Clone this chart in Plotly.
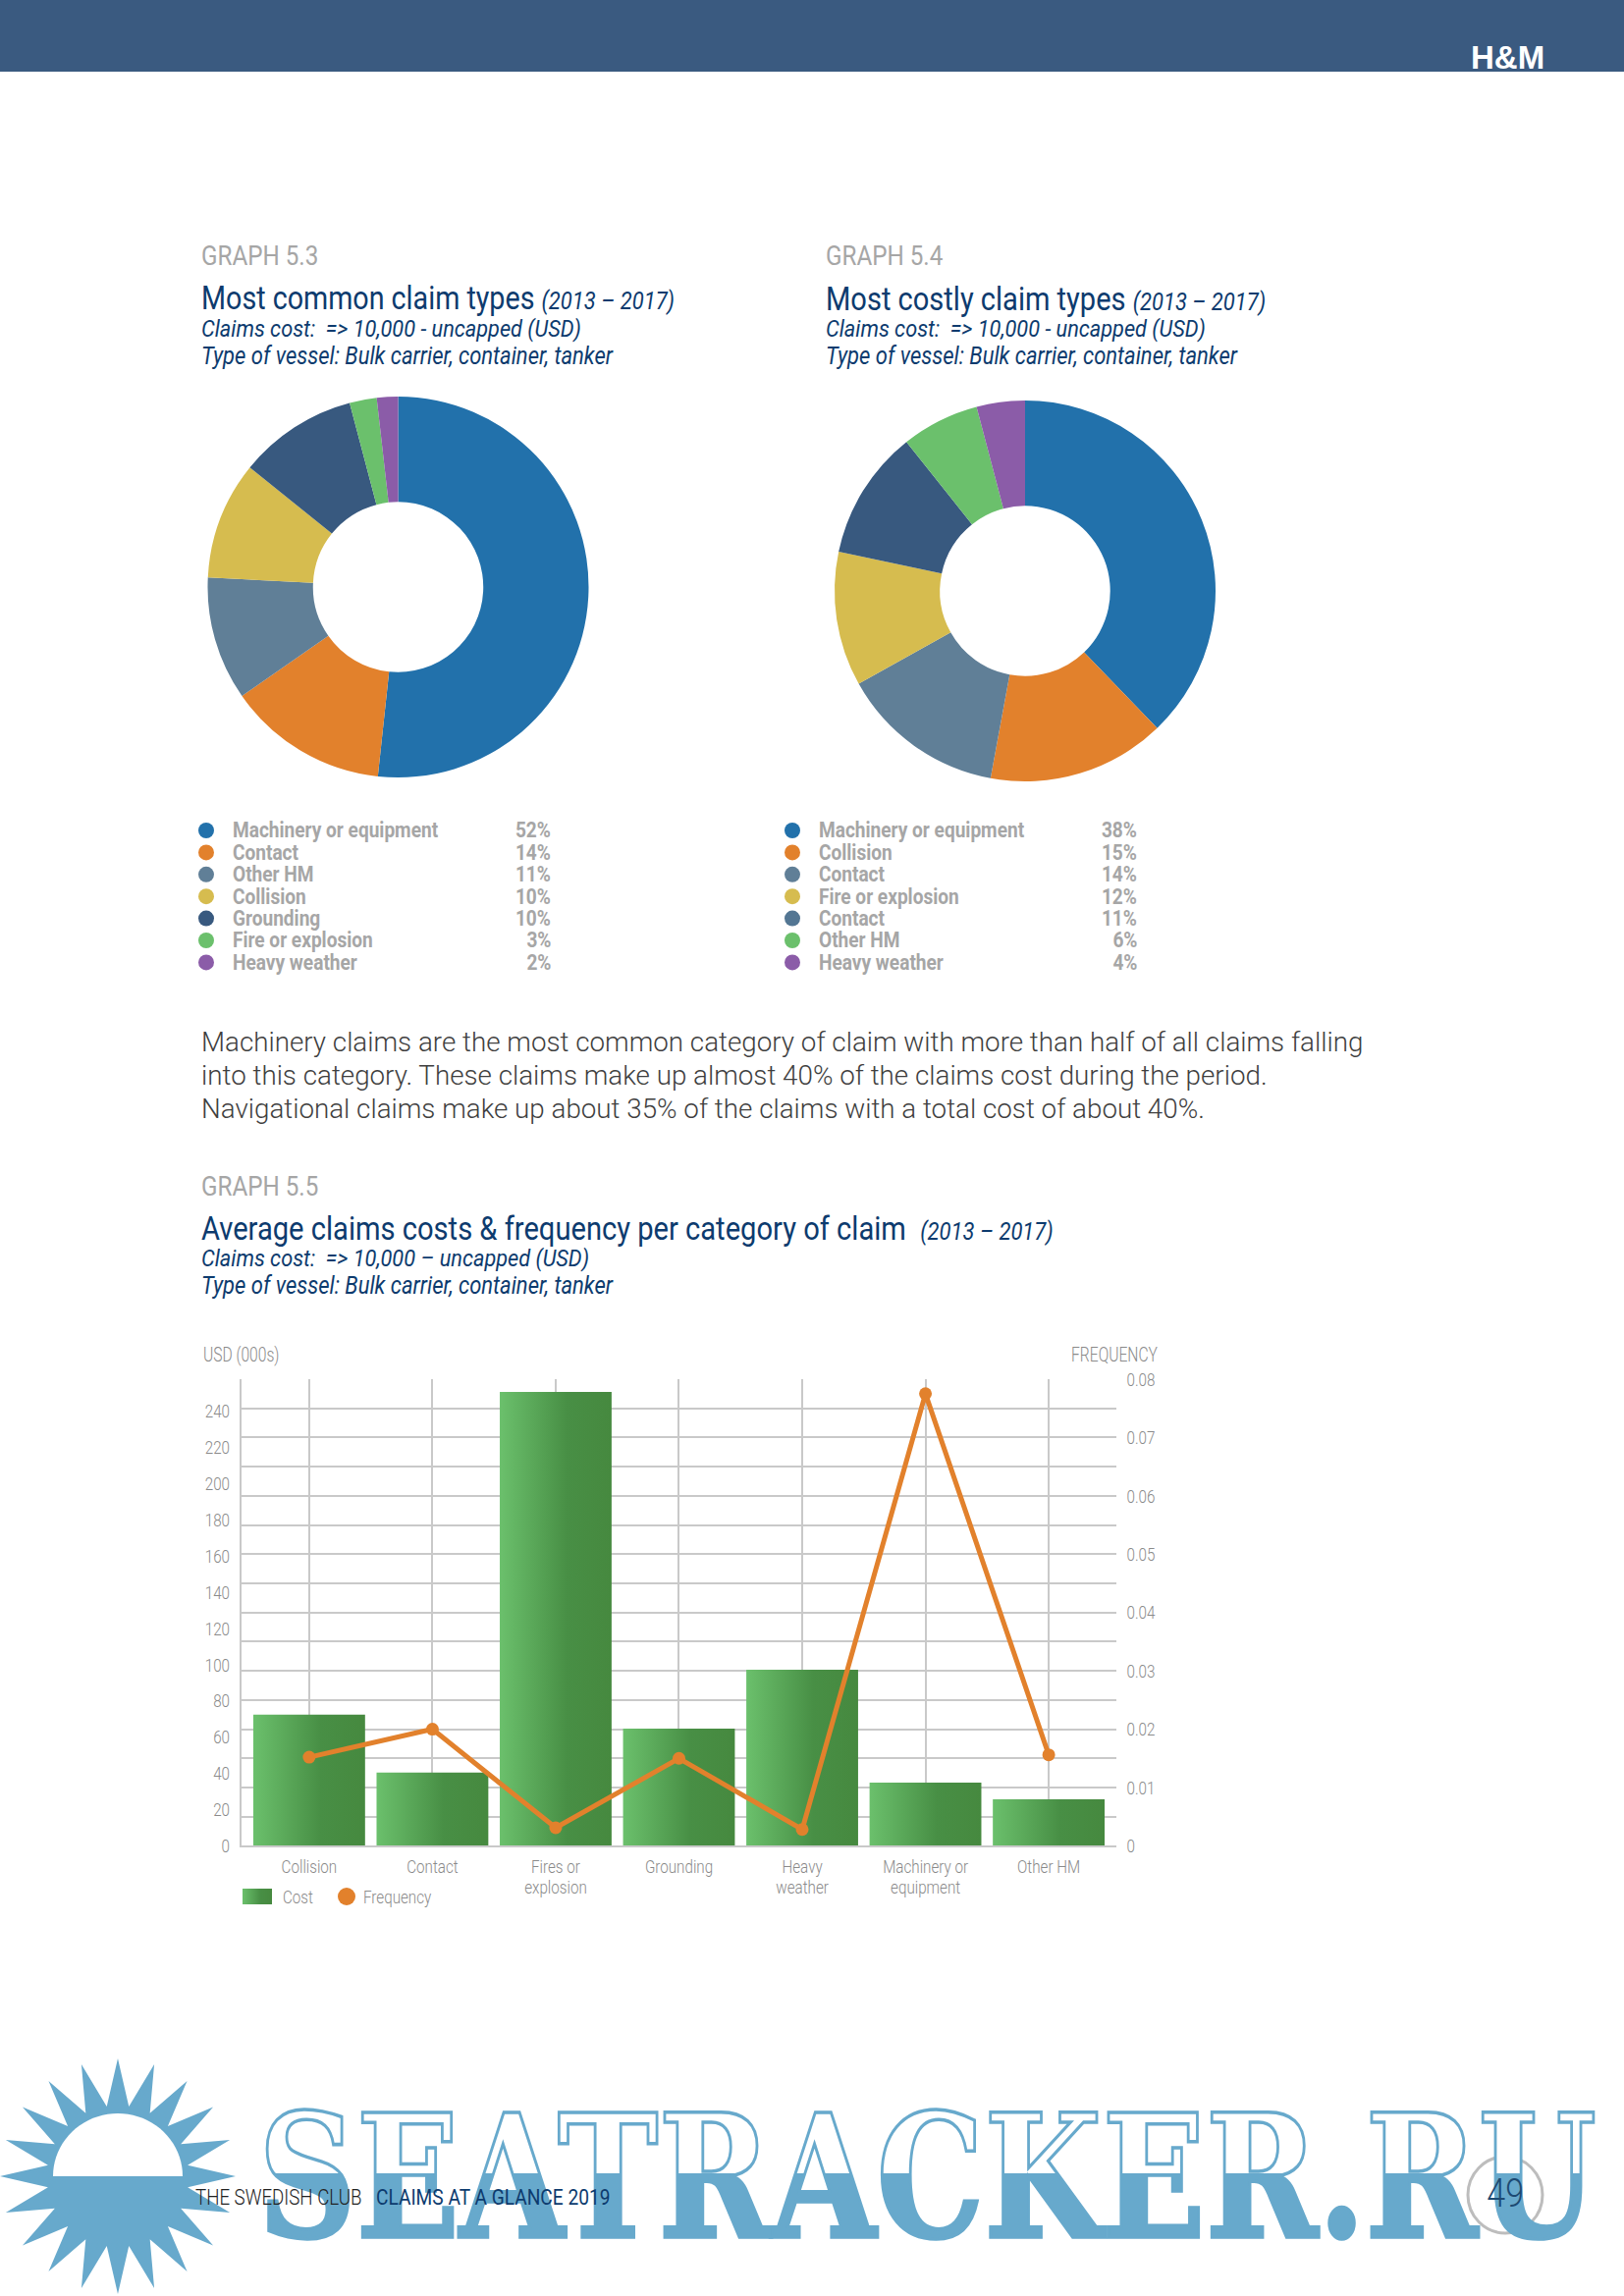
import math
import plotly.graph_objects as go

W, H = 1654, 2339

# ---- data ----
pie1_labels = ["Machinery or equipment", "Contact", "Other HM", "Collision", "Grounding", "Fire or explosion", "Heavy weather"]
pie1_slices = [51.7, 13.6, 10.5, 10.0, 10.1, 2.3, 1.8]
pie1_percent = ["52%", "14%", "11%", "10%", "10%", "3%", "2%"]
pie2_labels = ["Machinery or equipment", "Collision", "Contact", "Fire or explosion", "Contact", "Other HM", "Heavy weather"]
pie2_slices = [37.8, 15.1, 14.0, 11.4, 11.0, 6.6, 4.1]
pie2_percent = ["38%", "15%", "14%", "12%", "11%", "6%", "4%"]
pie_colors = ["#2271ab", "#e2812c", "#607f97", "#d6bc4f", "#38597f", "#6bc06c", "#8b5ca8"]
legend2_colors = ["#2271ab", "#e2812c", "#607f97", "#d6bc4f", "#537693", "#6bc06c", "#8b5ca8"]

categories = ["Collision", "Contact", "Fires or explosion", "Grounding", "Heavy weather", "Machinery or equipment", "Other HM"]
tick_labels = ["Collision", "Contact", "Fires or<br>explosion", "Grounding", "Heavy<br>weather", "Machinery or<br>equipment", "Other HM"]
cost_values = [72.4, 40.5, 250.5, 64.7, 97.2, 34.9, 25.7]
frequency_values = [0.0152, 0.0200, 0.0031, 0.0150, 0.0028, 0.0775, 0.0156]
left_ticks = list(range(0, 260, 20))
right_ticks = [0, 0.01, 0.02, 0.03, 0.04, 0.05, 0.06, 0.07, 0.08]
right_tick_text = ["0", "0.01", "0.02", "0.03", "0.04", "0.05", "0.06", "0.07", "0.08"]

# ---- style ----
ROBOTO = "Roboto, sans-serif"
NAVY = "#0d3b6e"
GRAY = "#a6a6a6"
AXIS_GRAY = "#8a8a8a"
GRID = "#c9c9c9"
ORANGE = "#e2812c"

def px(x):
    return x / W

def py(y):
    return 1 - y / H

annotations, shapes = [], []

def label(x, y, text, size, color, family=ROBOTO, anchor="left", squeeze=0.88, **font_kw):
    annotations.append(dict(xref="paper", yref="paper", x=px(x), y=py(y), text=text, showarrow=False,
                            xanchor=anchor, yanchor="middle", align=anchor, borderpad=0, name=str(squeeze),
                            font=dict(size=size, color=color, family=family, **font_kw)))

fig = go.Figure()

# doughnuts
def pie(slices, labels, colors, cx, cy, r):
    fig.add_trace(go.Pie(values=slices, hovertext=labels, hole=0.447, sort=False, direction="clockwise", rotation=0,
                         textinfo="none", showlegend=False, marker=dict(colors=colors, line=dict(width=0)),
                         domain=dict(x=[px(cx - r), px(cx + r)], y=[py(cy + r), py(cy - r)])))

pie(pie1_slices, pie1_labels, pie_colors, 405.5, 598, 194)
pie(pie2_slices, pie2_labels, pie_colors, 1044, 602, 194)

# bars
fig.add_trace(go.Bar(x=categories, y=cost_values, name="Cost", width=0.907, marker=dict(color="#58a556", line=dict(width=0)),
                     xaxis="x", yaxis="y"))
fig.add_trace(go.Scatter(x=categories, y=frequency_values, mode="lines+markers", name="Frequency",
                         line=dict(color=ORANGE, width=5), marker=dict(color=ORANGE, size=13), xaxis="x", yaxis="y2"))

# header
shapes.append(dict(type="rect", xref="paper", yref="paper", x0=0, x1=1, y0=py(73), y1=1, fillcolor="#3a5a80", line=dict(width=0), layer="below"))
label(1535, 58, "H&M", 33, "white", "Liberation Sans", "center", 1, weight=700)

# text blocks above pies
def block(x, graph, title, period, sub1, sub2, y0, title_size=32.6, gap=""):
    label(x, y0, graph, 27.5, GRAY)
    label(x, y0 + 43, f"{title}{gap} <i><span style='font-size:25px'>{period}</span></i>", title_size, NAVY)
    label(x, y0 + 73, f"<i>{sub1}</i>", 24.7, NAVY)
    label(x, y0 + 101, f"<i>{sub2}</i>", 25, NAVY)

block(204, "GRAPH 5.3", "Most common claim types", "(2013 – 2017)", "Claims cost:  => 10,000 - uncapped (USD)",
      "Type of vessel: Bulk carrier, container, tanker", 261)
block(840, "GRAPH 5.4", "Most costly claim types", "(2013 – 2017)", "Claims cost:  => 10,000 - uncapped (USD)",
      "Type of vessel: Bulk carrier, container, tanker", 261, title_size=33)
block(204, "GRAPH 5.5", "Average claims costs &amp; frequency per category of claim", "(2013 – 2017)",
      "Claims cost:  => 10,000 – uncapped (USD)", "Type of vessel: Bulk carrier, container, tanker", 1208,
      title_size=33.1, gap="&nbsp;")

# legends beside pies
def pie_legend(labels, percents, colors, dot_x, text_x, pct_x):
    for i, (lab, pct, col) in enumerate(zip(labels, percents, colors)):
        y = 846 + i * 22.4
        shapes.append(dict(type="circle", xref="paper", yref="paper", x0=px(dot_x - 8), x1=px(dot_x + 8),
                           y0=py(y + 8), y1=py(y - 8), fillcolor=col, line=dict(width=0)))
        label(text_x, y, f"<b>{lab}</b>", 21.7, GRAY)
        label(pct_x, y, f"<b>{pct}</b>", 21.7, GRAY, anchor="right")

pie_legend(pie1_labels, pie1_percent, pie_colors, 210, 235.5, 562)
pie_legend(pie2_labels, pie2_percent, legend2_colors, 807, 833, 1159)

# paragraph
para = ["Machinery claims are the most common category of claim with more than half of all claims falling",
        "into this category. These claims make up almost 40% of the claims cost during the period.",
        "Navigational claims make up about 35% of the claims with a total cost of about 40%."]
for i, line in enumerate(para):
    label(204, 1062 + i * 33.5, line, 27.75, "#3f3f3f", ROBOTO, squeeze=1, weight=300)

label(206, 1380, "USD (000s)", 19.5, AXIS_GRAY, squeeze=0.8, weight=300)
label(1180, 1380, "FREQUENCY", 19.5, AXIS_GRAY, anchor="right", squeeze=0.8, weight=300)

# legend of the bar and line chart
shapes.append(dict(type="rect", xref="paper", yref="paper", x0=px(247), x1=px(277), y0=py(1940), y1=py(1924),
                   fillcolor="#58a556", line=dict(width=0), name="costSwatch"))
label(287, 1932, "Cost", 19, AXIS_GRAY, squeeze=0.8, weight=300)
shapes.append(dict(type="circle", xref="paper", yref="paper", x0=px(344), x1=px(362), y0=py(1941), y1=py(1923),
                   fillcolor=ORANGE, line=dict(width=0)))
label(369, 1932, "Frequency", 19, AXIS_GRAY, squeeze=0.8, weight=300)

# watermark sun
cx, cy, outer, inner = 120, 2217, 120, 72
n = 20
pts = []
for k in range(2 * n):
    a = math.pi * k / n
    r = outer if k % 2 == 0 else inner
    pts.append((px(cx + r * math.cos(a)), py(cy + r * math.sin(a))))
shapes.append(dict(type="path", xref="paper", yref="paper",
                   path="M" + "L".join(f"{a:.5f},{b:.5f}" for a, b in pts) + "Z", fillcolor="#67a9cc", line=dict(width=0)))
dome = [(px(cx + 66 * math.cos(math.pi * k / 40)), py(cy - 64 * math.sin(math.pi * k / 40))) for k in range(41)]
shapes.append(dict(type="path", xref="paper", yref="paper",
                   path="M" + "L".join(f"{a:.5f},{b:.5f}" for a, b in dome) + "Z", fillcolor="white", line=dict(width=0)))

# watermark wordmark
label(262, 2217, "SEATRACKER.RU", 175, "#67a9cc", "DejaVu Serif", squeeze=1, weight=700)

# footer
label(198, 2238, "THE SWEDISH CLUB", 22, "#222222", squeeze=0.85, weight=300)
label(382, 2238, "CLAIMS AT A GLANCE 2019", 22, NAVY, squeeze=0.87)
shapes.append(dict(type="circle", xref="paper", yref="paper", x0=px(1495), x1=px(1571), y0=py(2275), y1=py(2197),
                   fillcolor="rgba(0,0,0,0)", line=dict(color="#bdbdbd", width=3)))
label(1533, 2234, "49", 40, "#1d4a72", ROBOTO, "center", 0.85, weight=300)

axis_font = dict(family=ROBOTO, size=19, color=AXIS_GRAY, weight=300)
fig.update_layout(
    width=W, height=H, margin=dict(l=0, r=0, t=0, b=0, pad=0, autoexpand=False), autosize=False,
    paper_bgcolor="white", plot_bgcolor="white", barmode="overlay",
    annotations=annotations, shapes=shapes, showlegend=False,
    xaxis=dict(domain=[px(245.6), px(1136.5)], range=[-0.552, 6.545], type="category", categoryorder="array",
               categoryarray=categories, tickmode="array", tickvals=categories, ticktext=tick_labels,
               showgrid=True, gridcolor=GRID, gridwidth=1.5, showline=True, linecolor=GRID, linewidth=2,
               ticks="", tickfont=axis_font, ticklabelstandoff=3, zeroline=False, anchor="y"),
    yaxis=dict(domain=[py(1880.4), py(1405)], range=[0, 257.6], tickmode="array", tickvals=left_ticks,
               showgrid=False, showline=True, linecolor=GRID, linewidth=1.5, ticks="", tickfont=axis_font,
               ticklabelstandoff=6, zeroline=False),
    yaxis2=dict(domain=[py(1880.4), py(1405)], overlaying="y", side="right", anchor="x", range=[0, 0.08],
                tickmode="array", tickvals=right_ticks, ticktext=right_tick_text,
                showgrid=True, gridcolor=GRID, gridwidth=2, minor=dict(dtick=0.005, showgrid=True, gridcolor=GRID, gridwidth=1.5, ticks=""),
                showline=False, ticks="", tickfont=axis_font, ticklabelstandoff=10, zeroline=False),
)

post = """
document.documentElement.style.margin = '0';
document.documentElement.style.overflow = 'hidden';
document.body.style.margin = '0';
document.body.style.overflow = 'hidden';
var gd = document.querySelector('.plotly-graph-div');
gd.style.position = 'absolute'; gd.style.left = '0'; gd.style.top = '0';
var svg = gd.querySelector('svg.main-svg');
var defs = svg.querySelector('defs');
var NS = 'http://www.w3.org/2000/svg';
function grad(id, stops, vertical) {
  var g = document.createElementNS(NS, 'linearGradient');
  g.setAttribute('id', id); g.setAttribute('x1', '0'); g.setAttribute('y1', '0');
  g.setAttribute('x2', vertical ? '0' : '1'); g.setAttribute('y2', vertical ? '1' : '0');
  stops.forEach(function (s) {
    var st = document.createElementNS(NS, 'stop');
    st.setAttribute('offset', s[0]); st.setAttribute('stop-color', s[1]);
    g.appendChild(st);
  });
  defs.appendChild(g);
}
grad('costGrad', [[0, '#6bc06c'], [0.6, '#488f45'], [1, '#46893f']], false);
grad('wmGrad', [[0, '#ffffff'], [0.484, '#ffffff'], [0.484, '#67a9cc'], [1, '#67a9cc']], true);
gd.querySelectorAll('.barlayer .point path').forEach(function (p) { p.style.fill = 'url(#costGrad)'; });
function squeeze(t, s, side) {
  if (s === 1) return;
  var b = t.getBBox();
  var x0 = side === 'left' ? b.x : side === 'right' ? b.x + b.width : b.x + b.width / 2;
  var old = t.getAttribute('transform') || '';
  t.setAttribute('transform', old + ' translate(' + x0 + ',0) scale(' + s + ',1) translate(' + (-x0) + ',0)');
}
gd.querySelectorAll('.annotation').forEach(function (a) {
  var spec = gd.layout.annotations[+a.getAttribute('data-index')];
  var t = a.querySelector('.annotation-text');
  if (t.textContent.indexOf('SEATRACKER') >= 0) {
    squeeze(t, 1363 / t.getBBox().width, 'left');
    t.style.fill = 'url(#wmGrad)';
    t.style.stroke = '#67a9cc';
    t.style.strokeWidth = '3.5px';
    var bg = a.querySelector('rect.bg');
    if (bg) bg.setAttribute('width', '1363');
  } else {
    squeeze(t, parseFloat(spec.name), spec.xanchor);
  }
});
gd.querySelectorAll('.xtick text').forEach(function (t) {
  var lines = t.querySelectorAll('tspan.line');
  if (lines.length === 2) {
    lines[1].setAttribute('dy', '21px');
  }
  squeeze(t, 0.8, 'center');
});
gd.querySelectorAll('.ytick text').forEach(function (t) { squeeze(t, 0.8, 'right'); });
gd.querySelectorAll('.y2tick text').forEach(function (t) { squeeze(t, 0.8, 'left'); });
gd.layout.shapes.forEach(function (s, i) {
  if (s.name === 'costSwatch') {
    gd.querySelectorAll('.shapelayer path[data-index="' + i + '"]').forEach(function (p) { p.style.fill = 'url(#costGrad)'; });
  }
});
"""
fig.write_html("out.html", post_script=post, config=dict(displayModeBar=False))
